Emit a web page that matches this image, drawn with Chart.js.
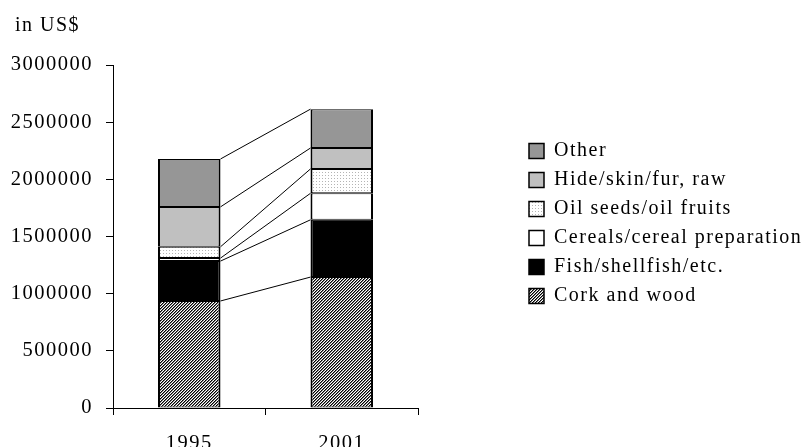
<!DOCTYPE html>
<html>
<head>
<meta charset="utf-8">
<script src="https://cdn.jsdelivr.net/npm/chart.js@4"></script>
<style>
html, body { margin: 0; padding: 0; background: #fff; }
#wrap { width: 802px; height: 447px; }
</style>
</head>
<body>
<div id="wrap"><canvas id="exportChart"></canvas></div>
<script>
const years = ["1995", "2001"];
const corkWood = [936000, 1145000];
const fishShellfish = [349000, 501000];
const cereals = [26000, 232000];
const oilSeeds = [99000, 213000];
const hideSkin = [349000, 183000];
const other = [419000, 340000];
const yTicks = [0, 500000, 1000000, 1500000, 2000000, 2500000, 3000000];

const makePattern = (size, bg, dots) => {
	const c = document.createElement("canvas");
	c.width = size;
	c.height = size;
	const g = c.getContext("2d");
	g.fillStyle = bg;
	g.fillRect(0, 0, size, size);
	dots.forEach((d) => {
		g.fillStyle = d[2];
		g.fillRect(d[0], d[1], 1, 1);
	});
	return g.createPattern(c, "repeat");
};

// fine diagonal hatch for cork, sparse dots for oil seeds
const hatch = makePattern(3, "#fff", [
	[0, 0, "#000"], [1, 2, "#000"], [2, 1, "#000"],
	[0, 1, "#7a7a7a"], [1, 0, "#7a7a7a"], [2, 2, "#7a7a7a"],
]);
const dotted = makePattern(3, "#fff", [[1, 1, "#b4b4b4"]]);

const barBorder = { left: 2, right: 2, top: 1, bottom: 1 };

const makeSet = (label, values, fill) => ({
	label: label,
	data: values,
	backgroundColor: fill,
	borderColor: "#000",
	borderWidth: barBorder,
	borderSkipped: false,
	barPercentage: 0.41,
	categoryPercentage: 1,
});

const spacing = {
	id: "spacing",
	beforeLayout(chart) {
		chart.ctx.letterSpacing = "1.5px";
	},
	beforeDraw(chart) {
		chart.ctx.letterSpacing = "1.5px";
	},
};

// keep the legend in a fixed column on the right, nudge the unit label
const placeBoxes = {
	id: "placeBoxes",
	beforeLayout(chart) {
		const lg = chart.legend;
		if (lg && !lg._fixed) {
			const fit = lg.fit;
			lg.fit = function () {
				fit.call(this);
				this.width = 384;
			};
			lg._fixed = true;
		}
	},
	afterLayout(chart) {
		chart.legend.left = 520;
		chart.titleBlock.left = 15;
	},
};

// thin lines joining the tops of matching segments
const connectors = {
	id: "connectors",
	afterDatasetsDraw(chart) {
		const ctx = chart.ctx;
		ctx.save();
		ctx.strokeStyle = "#000";
		ctx.lineWidth = 1;
		chart.data.datasets.forEach((ds, i) => {
			const bars = chart.getDatasetMeta(i).data;
			for (let k = 0; k < bars.length - 1; k++) {
				const a = bars[k];
				const b = bars[k + 1];
				ctx.beginPath();
				ctx.moveTo(a.x + a.width / 2, a.y);
				ctx.lineTo(b.x - b.width / 2, b.y);
				ctx.stroke();
			}
		});
		ctx.restore();
	},
};

Chart.defaults.font.family = "'Liberation Serif', 'Times New Roman', serif";
Chart.defaults.font.size = 20;
Chart.defaults.color = "#000";

const config = {
	type: "bar",
	data: {
		labels: years,
		datasets: [
			makeSet("Cork and wood", corkWood, hatch),
			makeSet("Fish/shellfish/etc.", fishShellfish, "#000"),
			makeSet("Cereals/cereal preparation", cereals, "#fff"),
			makeSet("Oil seeds/oil fruits", oilSeeds, dotted),
			makeSet("Hide/skin/fur, raw", hideSkin, "#c0c0c0"),
			makeSet("Other", other, "#969696"),
		],
	},
	options: {
		responsive: true,
		maintainAspectRatio: false,
		animation: false,
		devicePixelRatio: 1,
		layout: { padding: { left: 4, top: 0, right: 0, bottom: 0 } },
		plugins: {
			title: {
				display: true,
				text: "in US$",
				align: "start",
				font: { size: 20, weight: "normal" },
				color: "#000",
				padding: { top: 14, bottom: 27 },
			},
			legend: {
				position: "right",
				reverse: true,
				labels: {
					boxWidth: 15,
					boxHeight: 15,
					padding: 9,
					font: { size: 20 },
					color: "#000",
				},
			},
			tooltip: { enabled: false },
		},
		scales: {
			x: {
				stacked: true,
				grid: {
					offset: true,
					drawOnChartArea: false,
					drawTicks: true,
					tickLength: 7,
					color: "#000",
				},
				border: { color: "#000", width: 1 },
				ticks: { padding: 16, font: { size: 20.5 }, maxRotation: 0 },
				afterFit(scale) {
					scale.height = 39;
				},
			},
			y: {
				stacked: true,
				min: 0,
				max: 3000000,
				afterBuildTicks(scale) {
					scale.ticks = yTicks.map((v) => ({ value: v }));
				},
				grid: {
					drawOnChartArea: false,
					drawTicks: true,
					tickLength: 7,
					color: "#000",
				},
				border: { color: "#000", width: 1 },
				ticks: {
					padding: 13,
					font: { size: 20.5 },
					callback: (v) => String(v),
				},
				afterFit(scale) {
					scale.width = 109;
				},
			},
		},
	},
	plugins: [spacing, placeBoxes, connectors],
};

const exportChart = new Chart(document.getElementById("exportChart"), config);
</script>
</body>
</html>
